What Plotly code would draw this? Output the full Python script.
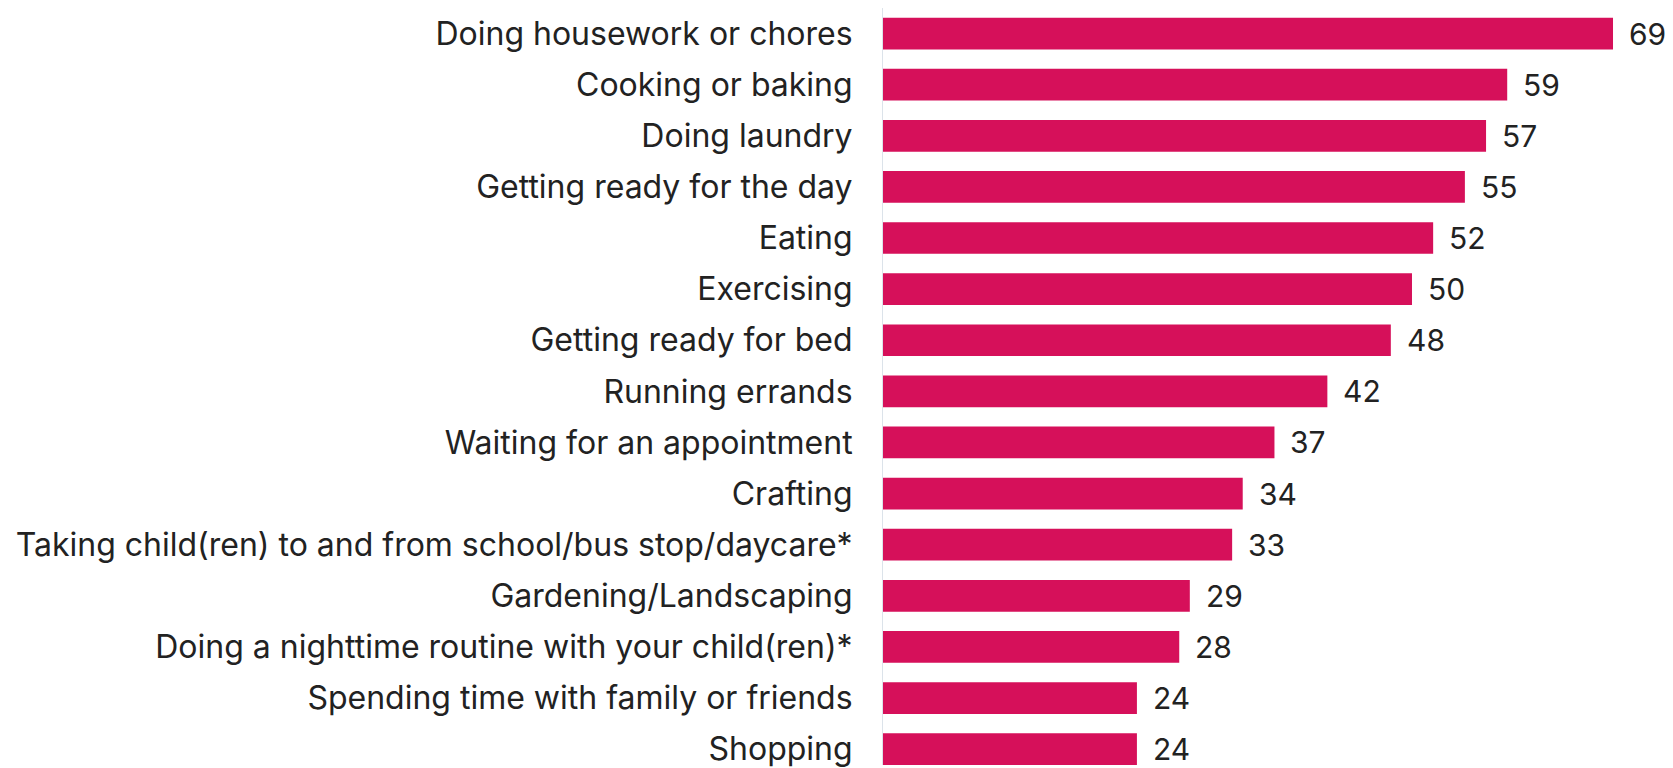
import plotly.graph_objects as go

# Share of respondents (%) by activity
activities = [
    "Doing housework or chores",
    "Cooking or baking",
    "Doing laundry",
    "Getting ready for the day",
    "Eating",
    "Exercising",
    "Getting ready for bed",
    "Running errands",
    "Waiting for an appointment",
    "Crafting",
    "Taking child(ren) to and from school/bus stop/daycare*",
    "Gardening/Landscaping",
    "Doing a nighttime routine with your child(ren)*",
    "Spending time with family or friends",
    "Shopping",
]
values = [69, 59, 57, 55, 52, 50, 48, 42, 37, 34, 33, 29, 28, 24, 24]

positions = list(range(len(activities)))
bar_color = "#D6105A"
text_color = "#222222"
font_family = "Inter, Roboto, sans-serif"

fig = go.Figure(
    go.Bar(
        x=values,
        y=positions,
        orientation="h",
        width=0.62,
        marker=dict(color=bar_color, line=dict(width=0)),
        hoverinfo="skip",
    )
)

# Value labels just beyond each bar end
for pos, val in zip(positions, values):
    fig.add_annotation(
        x=val, y=pos, text=str(val), showarrow=False,
        xanchor="left", yanchor="middle", xshift=14,
        font=dict(family=font_family, size=30, color=text_color),
    )

fig.update_layout(
    width=1673,
    height=768,
    margin=dict(l=883, r=0, t=8, b=0),
    paper_bgcolor="white",
    plot_bgcolor="white",
    showlegend=False,
    font=dict(family=font_family, size=32, color=text_color),
)
fig.update_xaxes(
    range=[0, 74.67],
    visible=False,
    showgrid=False,
    zeroline=False,
)
fig.update_yaxes(
    range=[14.31, -0.5],
    tickmode="array",
    tickvals=positions,
    ticktext=activities,
    showgrid=False,
    zeroline=False,
    showline=True,
    linecolor="#DCE3EA",
    linewidth=1,
    ticks="",
    ticklabelstandoff=23,
    ticklabeloverflow="allow",
    tickfont=dict(family=font_family, size=32, color=text_color),
)

fig.write_html("out.html")
